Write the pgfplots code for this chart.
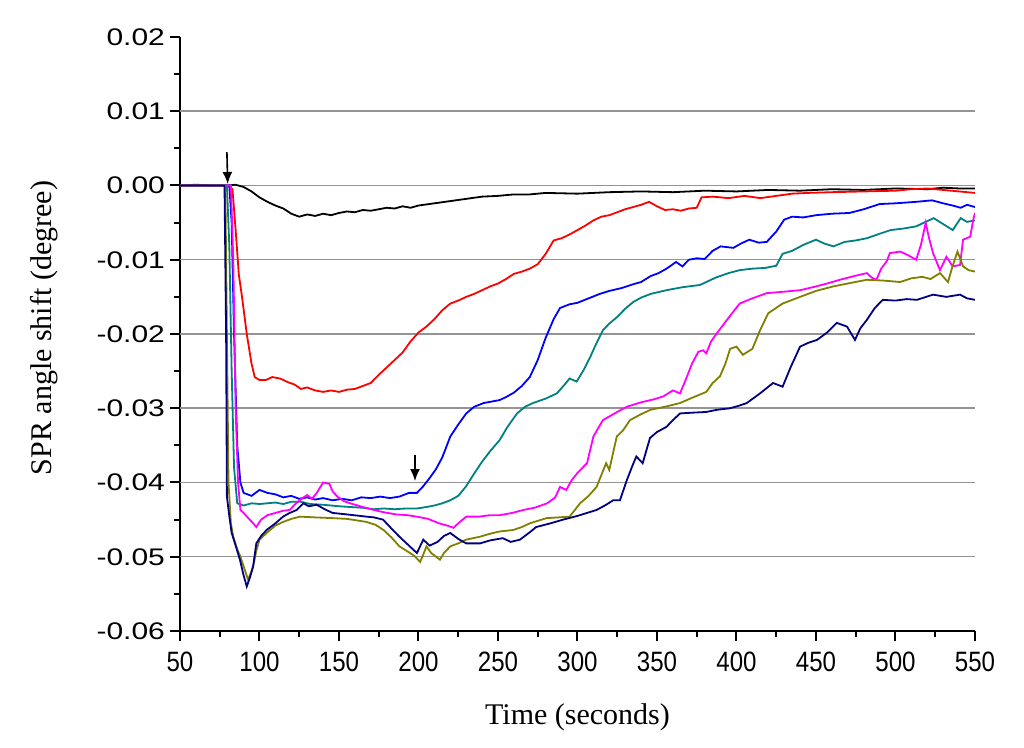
\documentclass[border=0pt]{standalone}
\usepackage{fontspec}
\setmainfont{Liberation Serif}
\newfontfamily\arialx[FakeStretch=0.86]{Liberation Sans}
\newfontfamily\arialy[FakeStretch=1.25]{Liberation Sans}
\usepackage{pgfplots}
\pgfplotsset{compat=1.18}
\usetikzlibrary{arrows.meta}
\definecolor{cteal}{RGB}{0,128,128}
\definecolor{colive}{RGB}{128,128,0}
\definecolor{cnavy}{RGB}{0,0,128}
\definecolor{cmag}{RGB}{255,0,255}
\begin{document}
\begin{tikzpicture}
\begin{axis}[
  scale only axis, width=397.5pt, height=297pt,
  xmin=50, xmax=550, ymin=-0.06, ymax=0.02,
  scaled y ticks=false, scaled x ticks=false,
  axis x line*=bottom, axis y line*=left,
  axis line style={line width=1pt,-},
  tick align=outside,
  major tick length=5pt, minor tick length=3pt,
  every tick/.style={line width=1pt,black},
  xtick={50,100,...,550},
  xticklabels={50,100,150,200,250,300,350,400,450,500,550},
  minor x tick num=1,
  ytick={-0.06,-0.05,-0.04,-0.03,-0.02,-0.01,0,0.01,0.02},
  yticklabels={-0.06,-0.05,-0.04,-0.03,-0.02,-0.01,0.00,0.01,0.02},
  minor y tick num=1,
  extra y ticks={-0.05,-0.04,-0.03,-0.02,-0.01,0,0.01},
  extra y tick labels={},
  extra y tick style={ymajorgrids=true, major tick length=0pt},
  major grid style={line width=0.75pt, color=black!42},
  xticklabel style={font=\arialx\fontsize{14}{16}\selectfont, yshift=-2pt},
  yticklabel style={font=\arialy\fontsize{12}{14}\selectfont, xshift=1pt},
  xlabel={Time (seconds)},
  ylabel={SPR angle shift (degree)},
  label style={font=\fontsize{15}{18}\selectfont},
  xlabel style={at={(axis description cs:0.5,-0.145)},anchor=center},
  ylabel style={at={(axis description cs:-0.171,0.51)},anchor=center},
  every axis plot/.append style={line width=0.9pt, mark=none},
  clip=true,
]
% black
\addplot[black] coordinates {(50,0)(60,0.0001)(70,0)(80,0)(85,0.0001)(90,-0.0002)(95,-0.0008)(100,-0.0016)(105,-0.0022)(110,-0.0027)(115,-0.0031)(120,-0.0038)(125,-0.0042)(130,-0.0039)(135,-0.0041)(140,-0.0038)(145,-0.0040)(150,-0.0037)(155,-0.0035)(160,-0.0036)(165,-0.0033)(170,-0.0034)(175,-0.0032)(180,-0.0030)(185,-0.0031)(190,-0.0028)(195,-0.0030)(200,-0.0027)(210,-0.0024)(220,-0.0021)(230,-0.0018)(240,-0.0015)(250,-0.0014)(260,-0.0012)(270,-0.0012)(280,-0.0010)(300,-0.0011)(320,-0.0009)(340,-0.0008)(360,-0.0009)(380,-0.0007)(400,-0.0008)(420,-0.0006)(440,-0.0007)(460,-0.0005)(480,-0.0006)(500,-0.0004)(520,-0.0005)(530,-0.0003)(540,-0.0004)(550,-0.0004)};
% red
\addplot[red] coordinates {(50,0)(70,0)(80,0)(83,-0.0005)(85,-0.006)(87,-0.012)(89,-0.015)(92,-0.02)(95,-0.024)(97,-0.0258)(100,-0.0262)(104,-0.0262)(108,-0.0258)(113,-0.026)(118,-0.0265)(122,-0.0268)(126,-0.0274)(130,-0.0272)(135,-0.0276)(140,-0.0278)(145,-0.0276)(150,-0.0278)(155,-0.0275)(160,-0.0274)(165,-0.027)(170,-0.0266)(175,-0.0255)(180,-0.0245)(185,-0.0235)(190,-0.0225)(195,-0.021)(200,-0.0198)(205,-0.019)(210,-0.018)(215,-0.0168)(220,-0.0159)(225,-0.0155)(230,-0.015)(235,-0.0146)(240,-0.0141)(245,-0.0136)(250,-0.0132)(255,-0.0126)(260,-0.0119)(265,-0.0116)(270,-0.0112)(275,-0.0106)(280,-0.0092)(285,-0.0074)(290,-0.0071)(295,-0.0066)(300,-0.0060)(305,-0.0054)(310,-0.0047)(315,-0.0042)(320,-0.0040)(325,-0.0036)(330,-0.0032)(335,-0.0029)(340,-0.0026)(345,-0.0022)(350,-0.0028)(355,-0.0033)(360,-0.0032)(365,-0.0034)(370,-0.0031)(375,-0.0030)(378,-0.0016)(385,-0.0015)(395,-0.0017)(405,-0.0014)(415,-0.0017)(425,-0.0014)(435,-0.0011)(445,-0.0010)(460,-0.0009)(480,-0.0008)(500,-0.0007)(510,-0.0005)(520,-0.0004)(530,-0.0006)(540,-0.0008)(550,-0.001)};
% blue
\addplot[blue] coordinates {(50,0)(70,0)(81,0)(82.5,-0.005)(84,-0.02)(86,-0.035)(88,-0.040)(90,-0.0414)(95,-0.0418)(100,-0.041)(105,-0.0414)(110,-0.0416)(115,-0.042)(120,-0.0418)(125,-0.0422)(130,-0.042)(135,-0.0423)(140,-0.0421)(146,-0.0424)(152,-0.0422)(158,-0.0424)(164,-0.042)(170,-0.0421)(176,-0.0419)(182,-0.0421)(188,-0.0419)(194,-0.0414)(199,-0.0414)(203,-0.0405)(207,-0.0394)(211,-0.0382)(215,-0.0366)(220,-0.0338)(225,-0.0322)(230,-0.0307)(235,-0.0298)(241,-0.0293)(246,-0.0291)(251,-0.0289)(255,-0.0285)(260,-0.0279)(265,-0.0270)(270,-0.0258)(275,-0.0235)(280,-0.0205)(285,-0.0180)(289,-0.0165)(295,-0.0160)(300,-0.0158)(307,-0.0152)(314,-0.0146)(320,-0.0142)(328,-0.0138)(335,-0.0133)(340,-0.0130)(346,-0.0122)(351,-0.0118)(356,-0.0112)(362,-0.0103)(366,-0.0109)(370,-0.0100)(375,-0.0098)(380,-0.0099)(385,-0.0088)(390,-0.0082)(398,-0.0084)(403,-0.0078)(408,-0.0073)(414,-0.0077)(419,-0.0076)(425,-0.0062)(430,-0.0046)(435,-0.0042)(442,-0.0043)(450,-0.0040)(460,-0.0038)(471,-0.0037)(480,-0.0032)(490,-0.0025)(500,-0.0024)(513,-0.0022)(523,-0.002)(530,-0.0024)(536,-0.0027)(541,-0.0030)(545,-0.0026)(550,-0.0029)};
% teal
\addplot[cteal] coordinates {(50,0)(70,0)(79.5,0)(81,-0.008)(82.5,-0.025)(84,-0.038)(86,-0.0428)(90,-0.0431)(95,-0.0428)(100,-0.0429)(105,-0.0428)(110,-0.0427)(115,-0.0429)(120,-0.0426)(126,-0.0426)(132,-0.0429)(140,-0.0430)(150,-0.0432)(157,-0.0433)(165,-0.0434)(172,-0.0436)(178,-0.0435)(185,-0.0436)(192,-0.0435)(199,-0.0435)(205,-0.0433)(210,-0.0431)(215,-0.0428)(220,-0.0424)(225,-0.0418)(230,-0.0405)(235,-0.0388)(240,-0.0372)(245,-0.0358)(251,-0.0343)(256,-0.0325)(262,-0.0307)(267,-0.0298)(272,-0.0293)(280,-0.0287)(287,-0.0280)(292,-0.0268)(295,-0.026)(299.5,-0.0264)(304,-0.0248)(308,-0.0231)(312,-0.0212)(316,-0.0195)(320,-0.0186)(325,-0.0177)(330,-0.0166)(335,-0.0157)(340,-0.0151)(346,-0.0146)(356,-0.0141)(366,-0.0137)(377,-0.0134)(387,-0.0124)(395,-0.0118)(402,-0.0114)(410,-0.0112)(418,-0.0111)(425,-0.0108)(429,-0.0092)(435,-0.0088)(442,-0.0080)(450,-0.0073)(455,-0.0078)(461,-0.0082)(468,-0.0076)(475,-0.0074)(482,-0.0071)(490,-0.0065)(497,-0.0060)(505,-0.0058)(513,-0.0055)(518,-0.0050)(524,-0.0044)(530,-0.0052)(536,-0.0060)(541,-0.0044)(545,-0.0049)(550,-0.0047)};
% magenta
\addplot[cmag] coordinates {(50,0)(70,0)(82,0)(83.5,-0.01)(85,-0.03)(86.5,-0.040)(88,-0.0437)(90,-0.0441)(93,-0.0448)(96,-0.0455)(98,-0.046)(101,-0.0450)(105,-0.0444)(110,-0.0441)(115,-0.0438)(119,-0.0437)(123,-0.0428)(127,-0.0421)(130,-0.0417)(133,-0.0422)(136,-0.0414)(140,-0.0400)(144,-0.0402)(146,-0.0412)(149,-0.0419)(153,-0.0425)(157,-0.0428)(165,-0.0433)(172,-0.0437)(178,-0.044)(186,-0.0443)(193,-0.0444)(199,-0.0446)(206,-0.0449)(213,-0.0455)(218,-0.0458)(222,-0.0461)(225,-0.0455)(230,-0.0446)(238,-0.0446)(245,-0.0444)(251,-0.0444)(259,-0.0441)(266,-0.0437)(273,-0.0434)(281,-0.0428)(286,-0.0420)(289,-0.0406)(293,-0.0410)(296,-0.0398)(300,-0.0387)(306,-0.0374)(310,-0.0338)(316,-0.0316)(325,-0.0305)(331,-0.0298)(340,-0.0292)(348,-0.0288)(354,-0.0284)(360,-0.0276)(364.5,-0.0280)(368,-0.0262)(372,-0.0240)(376,-0.0224)(379,-0.0222)(381,-0.0226)(384,-0.0210)(388,-0.0198)(394,-0.0181)(402,-0.0159)(410,-0.0152)(419,-0.0145)(430,-0.0143)(440,-0.0141)(448,-0.0137)(457,-0.0132)(465,-0.0127)(474,-0.0122)(482,-0.0118)(485,-0.0124)(488,-0.0127)(491,-0.0112)(494.5,-0.0102)(496.5,-0.0091)(503,-0.0089)(508,-0.0094)(513,-0.0100)(516,-0.0080)(519,-0.0050)(521,-0.0070)(523.6,-0.0091)(528,-0.0114)(532,-0.0096)(536,-0.0109)(540.6,-0.0107)(542.5,-0.0073)(547,-0.0069)(549,-0.0045)(550,-0.0037)};
% olive
\addplot[colive] coordinates {(50,0)(70,0)(78.5,0)(79.5,-0.02)(80.5,-0.04)(82,-0.0455)(83.5,-0.0473)(86,-0.049)(88,-0.050)(90.5,-0.0516)(92.8,-0.0531)(94.5,-0.0522)(96,-0.0513)(98,-0.0492)(100,-0.0477)(104.5,-0.0468)(110,-0.0458)(115,-0.0453)(120,-0.0449)(125.5,-0.0446)(135,-0.0447)(146,-0.0448)(155,-0.0449)(167,-0.0453)(173,-0.0457)(178,-0.0464)(183,-0.0474)(188,-0.0486)(194.7,-0.0495)(198,-0.0500)(201,-0.0507)(203,-0.0497)(205,-0.0486)(208,-0.0495)(213.5,-0.0504)(216,-0.0495)(220,-0.0486)(225,-0.0482)(230,-0.0477)(238.7,-0.0473)(245,-0.0469)(251,-0.0466)(259.5,-0.0464)(265,-0.0460)(270,-0.0455)(276,-0.0451)(280.6,-0.0448)(288,-0.0447)(295,-0.0446)(298,-0.0438)(301.6,-0.0428)(307,-0.0418)(312,-0.0406)(318,-0.0374)(320,-0.0383)(324.7,-0.0338)(328.6,-0.0330)(333,-0.0316)(340,-0.0308)(346,-0.0302)(355,-0.0298)(364.5,-0.0293)(372,-0.0286)(381,-0.0278)(385,-0.0266)(389.6,-0.0257)(393,-0.0240)(396,-0.0220)(400,-0.0217)(404,-0.0228)(410,-0.0220)(414.8,-0.0195)(420,-0.0172)(429,-0.0159)(440,-0.0150)(450,-0.0142)(460.7,-0.0136)(470,-0.0132)(482,-0.0127)(492,-0.0128)(503,-0.0130)(510,-0.0125)(517,-0.0123)(522,-0.0126)(528,-0.0118)(533,-0.0130)(536,-0.0108)(539,-0.0089)(542.5,-0.0109)(546,-0.0114)(550,-0.0116)};
% navy
\addplot[cnavy] coordinates {(50,0)(70,0)(78,0)(79,-0.02)(79.5,-0.0419)(81,-0.0445)(82.5,-0.0468)(85,-0.0485)(87.7,-0.0504)(90,-0.0525)(92,-0.054)(94,-0.0528)(96,-0.0513)(98,-0.0482)(101,-0.0472)(104.5,-0.0464)(110,-0.0455)(114.8,-0.0446)(119,-0.0441)(123.4,-0.0437)(127.6,-0.0428)(131,-0.0432)(136,-0.043)(141,-0.0436)(146,-0.0441)(155,-0.0443)(167.4,-0.0446)(172,-0.0447)(177.7,-0.045)(183,-0.0462)(188,-0.0473)(194,-0.0485)(199,-0.0495)(203,-0.0477)(207,-0.0485)(212,-0.0480)(216,-0.0472)(220,-0.0468)(225,-0.0476)(230,-0.0482)(238.7,-0.0482)(245,-0.0478)(253,-0.0475)(258,-0.0480)(263.8,-0.0477)(270,-0.0467)(274,-0.046)(283,-0.0455)(291,-0.045)(300,-0.0445)(312,-0.0437)(318,-0.0430)(322.4,-0.0424)(326.7,-0.0424)(331,-0.0397)(335,-0.0375)(337,-0.0365)(341,-0.0374)(345.6,-0.0340)(350,-0.0332)(356,-0.0325)(360,-0.0316)(364.5,-0.0307)(372,-0.0306)(381,-0.0305)(388,-0.0302)(396,-0.0300)(401,-0.0297)(406.5,-0.0293)(414.8,-0.028)(423,-0.0266)(429,-0.0271)(434,-0.0245)(440,-0.0217)(445,-0.0212)(450.6,-0.0208)(457,-0.0198)(463,-0.0185)(469.5,-0.019)(474.5,-0.0208)(478,-0.0192)(482,-0.0181)(487,-0.0165)(492,-0.0154)(500,-0.0155)(507,-0.0153)(513.5,-0.0154)(523.6,-0.0147)(532,-0.0150)(540.6,-0.0147)(545,-0.0152)(550,-0.0154)};
% arrows (annotations)
\draw[line width=0.8pt,-{Latex[length=6pt,width=5pt]}] (axis cs:79.5,0.0045) -- (axis cs:80,0.0002);
\draw[line width=0.8pt,-{Latex[length=6pt,width=5pt]}] (axis cs:197.8,-0.0363) -- (axis cs:197.8,-0.0398);
\end{axis}
\path (-90pt,-58.5pt) rectangle (422pt,315.5pt);
\end{tikzpicture}
\end{document}
